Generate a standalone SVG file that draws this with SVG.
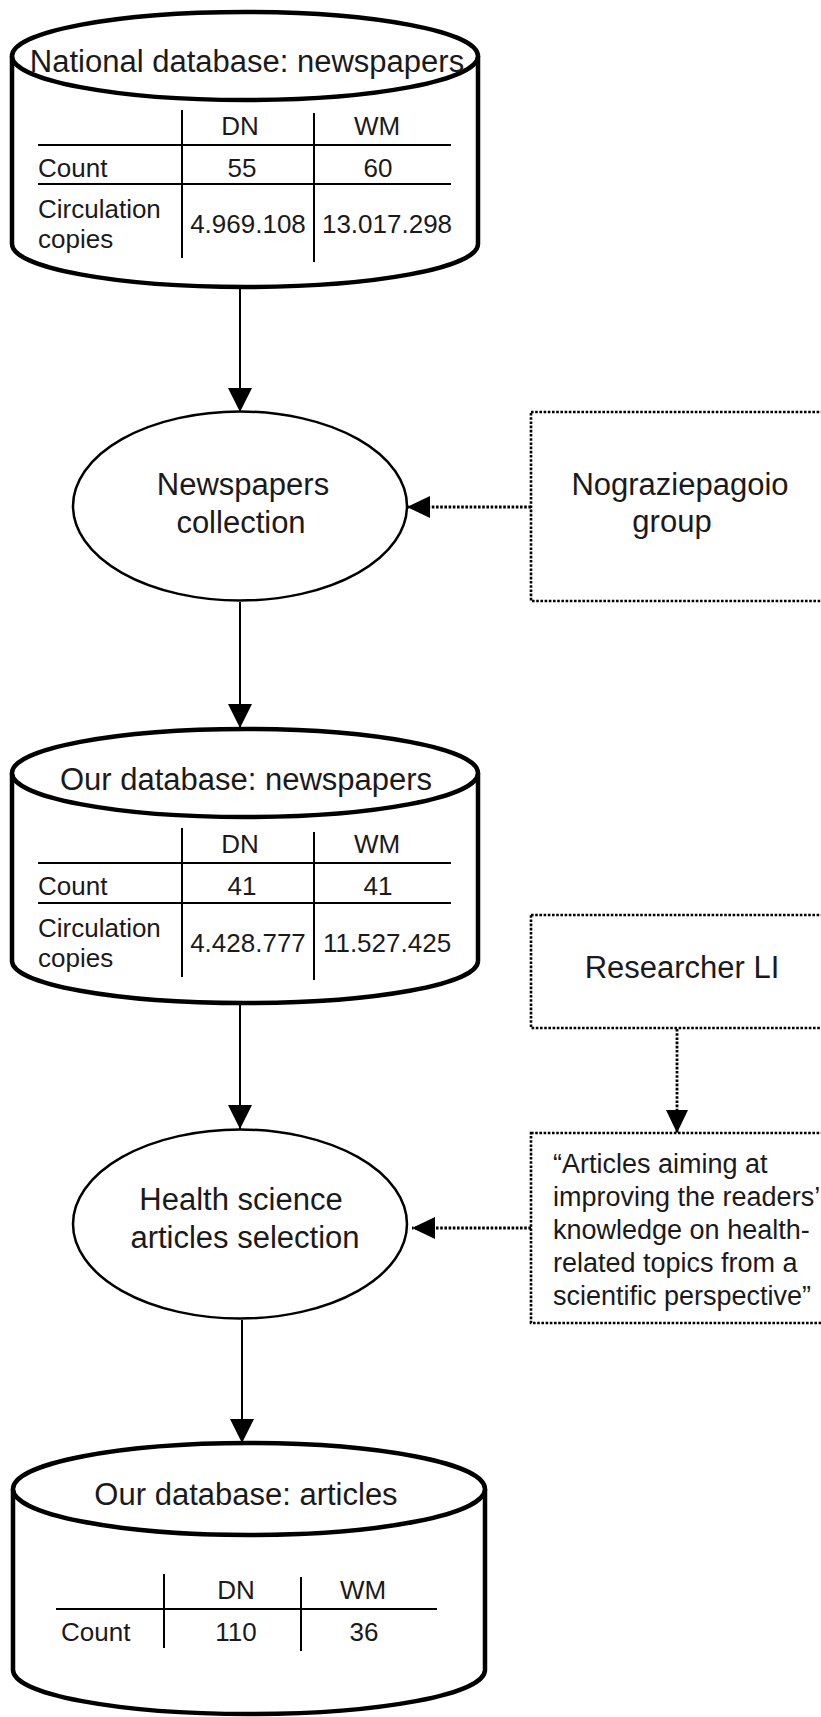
<svg xmlns="http://www.w3.org/2000/svg" width="821" height="1717" viewBox="0 0 821 1717">
<style>
.cyl{fill:#fff;stroke:#000;stroke-width:4.5}
.ell{fill:#fff;stroke:#000;stroke-width:2.5}
.box{fill:#fff;stroke:#000;stroke-width:2.6;stroke-dasharray:2.6 1.6}
.tl{stroke:#000;stroke-width:2;fill:none}
.con{stroke:#000;stroke-width:2;fill:none}
.dot{stroke:#000;stroke-width:2.8;stroke-dasharray:2.6 1.6;fill:none}
text{font-family:"Liberation Sans",Arial,sans-serif;fill:#1a1a1a}
.t31{font-size:31px}
.t26{font-size:26px}
.t27{font-size:27px}
.m{text-anchor:middle}
</style>
<defs>
<marker id="ah" viewBox="0 0 24 24" refX="24" refY="12" markerWidth="24" markerHeight="24" markerUnits="userSpaceOnUse" orient="auto">
<path d="M0,0 L24,12 L0,24 Z" fill="#000"/>
</marker>
<marker id="ahd" viewBox="0 0 23 22" refX="23" refY="11" markerWidth="23" markerHeight="22" markerUnits="userSpaceOnUse" orient="auto">
<path d="M0,0 L23,11 L0,22 Z" fill="#000"/>
</marker>
</defs>

<g id="connectors">
<line class="con" x1="240" y1="289" x2="240" y2="412" marker-end="url(#ah)"/>
<line class="con" x1="240" y1="602" x2="240" y2="728" marker-end="url(#ah)"/>
<line class="con" x1="240" y1="1005" x2="240" y2="1129" marker-end="url(#ah)"/>
<line class="con" x1="242" y1="1320" x2="242" y2="1443" marker-end="url(#ah)"/>
<line class="dot" x1="531" y1="507" x2="407" y2="507" marker-end="url(#ahd)"/>
<line class="dot" x1="531" y1="1228" x2="412" y2="1228" marker-end="url(#ahd)"/>
<line class="dot" x1="677" y1="1029" x2="677" y2="1133" marker-end="url(#ahd)"/>
</g>

<g id="national-db">
<path class="cyl" d="M12,56 V244 A233,43 0 0 0 478,244 V56"/>
<ellipse class="cyl" cx="245" cy="56" rx="233" ry="44"/>
<text class="t31 m" x="247" y="72">National database: newspapers</text>
<line class="tl" x1="182" y1="110" x2="182" y2="258"/>
<line class="tl" x1="314" y1="113" x2="314" y2="262"/>
<line class="tl" x1="38" y1="145" x2="451" y2="145"/>
<line class="tl" x1="38" y1="184" x2="451" y2="184"/>
<text class="t26 m" x="240" y="135">DN</text>
<text class="t26 m" x="377" y="135">WM</text>
<text class="t26" x="38" y="177">Count</text>
<text class="t26 m" x="242" y="177">55</text>
<text class="t26 m" x="378" y="177">60</text>
<text class="t26" x="38" y="218">Circulation</text>
<text class="t26" x="38" y="248">copies</text>
<text class="t26 m" x="248" y="233">4.969.108</text>
<text class="t26 m" x="387" y="233">13.017.298</text>
</g>

<g id="newspapers-collection">
<ellipse class="ell" cx="240" cy="506" rx="167" ry="94.5"/>
<text class="t31 m" x="243" y="495">Newspapers</text>
<text class="t31 m" x="241" y="533">collection</text>
</g>

<g id="nograziepagoio-group">
<rect class="box" x="531" y="412" width="300" height="189"/>
<text class="t31 m" x="680" y="495">Nograziepagoio</text>
<text class="t31 m" x="672" y="532">group</text>
</g>

<g id="our-db-newspapers">
<path class="cyl" d="M12,773 V961 A233,42 0 0 0 478,961 V773"/>
<ellipse class="cyl" cx="245" cy="773" rx="233" ry="44"/>
<text class="t31 m" x="246" y="790">Our database: newspapers</text>
<line class="tl" x1="182" y1="828" x2="182" y2="977"/>
<line class="tl" x1="314" y1="832" x2="314" y2="980"/>
<line class="tl" x1="38" y1="863" x2="451" y2="863"/>
<line class="tl" x1="38" y1="903" x2="451" y2="903"/>
<text class="t26 m" x="240" y="853">DN</text>
<text class="t26 m" x="377" y="853">WM</text>
<text class="t26" x="38" y="895">Count</text>
<text class="t26 m" x="242" y="895">41</text>
<text class="t26 m" x="378" y="895">41</text>
<text class="t26" x="38" y="937">Circulation</text>
<text class="t26" x="38" y="967">copies</text>
<text class="t26 m" x="248" y="952">4.428.777</text>
<text class="t26 m" x="387" y="952">11.527.425</text>
</g>

<g id="researcher-li">
<rect class="box" x="531" y="915" width="300" height="113"/>
<text class="t31 m" x="682" y="978">Researcher LI</text>
</g>

<g id="criteria">
<rect class="box" x="531" y="1133" width="300" height="190"/>
<text class="t27" x="553" y="1173">“Articles aiming at</text>
<text class="t27" x="553" y="1206">improving the readers’</text>
<text class="t27" x="553" y="1239">knowledge on health-</text>
<text class="t27" x="553" y="1272">related topics from a</text>
<text class="t27" x="553" y="1305">scientific perspective”</text>
</g>

<g id="health-selection">
<ellipse class="ell" cx="240" cy="1224" rx="167" ry="94.5"/>
<text class="t31 m" x="241" y="1210">Health science</text>
<text class="t31 m" x="245" y="1248">articles selection</text>
</g>

<g id="our-db-articles">
<path class="cyl" d="M13,1489 V1670 A236,44 0 0 0 485,1670 V1489"/>
<ellipse class="cyl" cx="249" cy="1489" rx="236" ry="46"/>
<text class="t31 m" x="246" y="1505">Our database: articles</text>
<line class="tl" x1="164" y1="1574" x2="164" y2="1648"/>
<line class="tl" x1="301" y1="1577" x2="301" y2="1651"/>
<line class="tl" x1="56" y1="1609" x2="437" y2="1609"/>
<text class="t26 m" x="236" y="1599">DN</text>
<text class="t26 m" x="363" y="1599">WM</text>
<text class="t26" x="61" y="1641">Count</text>
<text class="t26 m" x="236" y="1641">110</text>
<text class="t26 m" x="364" y="1641">36</text>
</g>
</svg>
